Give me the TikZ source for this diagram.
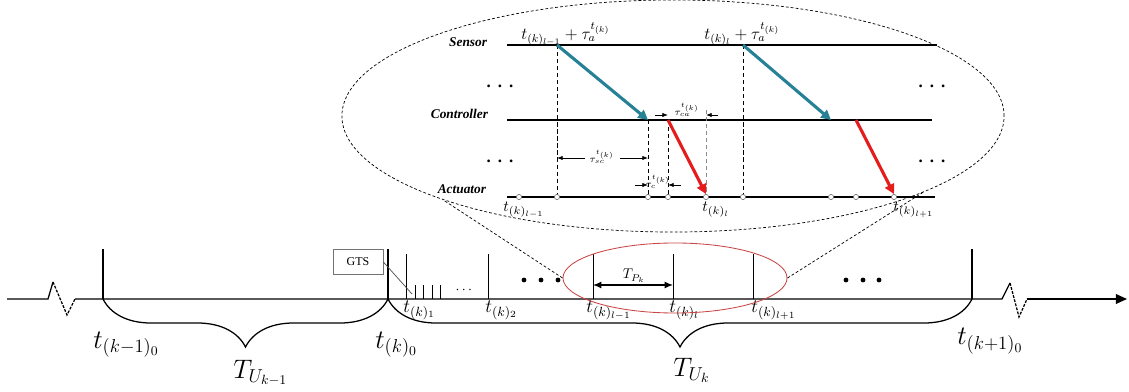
\RequirePackage{fix-cm}
\documentclass[tikz,border=0pt]{standalone}
\usepackage{amsmath}
\usepackage{fontspec}
\setmainfont{Liberation Serif}
\usetikzlibrary{arrows.meta, positioning, calc, shapes.geometric, decorations.pathreplacing}
\definecolor{sendteal}{RGB}{38, 128, 150}
\definecolor{actred}{RGB}{228, 28, 28}
\definecolor{focusred}{RGB}{200, 70, 70}

\begin{document}
\begin{tikzpicture}[x=0.025cm, y=-0.025cm,
    axisline/.style={line width=0.9pt},
    bigtick/.style={line width=0.9pt},
    midtick/.style={line width=0.7pt},
    smalltick/.style={line width=0.6pt},
    curly/.style={line width=0.9pt, decorate, decoration={brace, mirror, amplitude=1.2cm}},
    bigmath/.style={font=\fontsize{19}{21}\selectfont, inner sep=0pt},
    midmath/.style={font=\fontsize{13.5}{15}\selectfont, inner sep=0pt},
    zoommath/.style={font=\fontsize{12}{14}\selectfont, inner sep=0pt},
    tinymath/.style={font=\fontsize{7}{8}\selectfont, inner sep=0.5pt, fill=white},
    rowline/.style={line width=1.1pt},
    rowname/.style={font=\fontsize{9.5}{11}\selectfont\bfseries\itshape, anchor=east},
    slot/.style={circle, draw=black!60, fill=white, line width=0.4pt, inner sep=0pt, minimum size=0.13cm},
    guide/.style={line width=0.5pt, dash pattern=on 3pt off 2pt},
    sendarrow/.style={draw=sendteal, line width=2.2pt, -{Triangle[length=7pt, width=7pt]}},
    actarrow/.style={draw=actred, line width=2.2pt, -{Triangle[length=7pt, width=7pt]}},
    dimarrow/.style={line width=0.5pt, -{Latex[length=4pt, width=3pt]}},
    bigdot/.style={circle, fill=black, inner sep=0pt, minimum size=0.12cm},
    rowdots/.style={font=\fontsize{12}{14}\selectfont\bfseries, inner sep=0pt}]

    \useasboundingbox (0,0) rectangle (1129,392);

    % Time axis with breaks
    \coordinate (axL) at (7,299);
    \coordinate (axR) at (1127,299);
    \draw[axisline] (axL) -- (48,299) -- (53,282);
    \draw[axisline, dash pattern=on 2pt off 1pt] (53,282) -- (67,315) -- (75,299);
    \draw[axisline] (75,299) -- (1002,299) -- (1010,283);
    \draw[axisline, dash pattern=on 2pt off 1pt] (1010,283) -- (1019,317) -- (1027,299);
    \draw[axisline, -{Triangle[length=8pt, width=7pt]}] (1027,299) -- (axR);

    % Superframe bounds
    \coordinate (tkm1) at (103,299);
    \coordinate (tk0) at (388,299);
    \coordinate (tkp1) at (972,299);
    \foreach \p in {tkm1, tk0, tkp1}
        \draw[bigtick] (\p) -- ++(0,-50);
    \draw[curly] (tkm1) -- (tk0);
    \draw[curly] (tk0) -- (tkp1);

    % Slots
    \coordinate (m1) at (406,299);
    \coordinate (m2) at (488,299);
    \coordinate (ml0) at (593,299);
    \coordinate (ml1) at (673,299);
    \coordinate (ml2) at (753,299);
    \foreach \p in {m1, m2, ml0, ml1, ml2}
        \draw[midtick] (\p) -- ++(0,-45);
    \foreach \x in {415, 423, 432, 440}
        \draw[smalltick] (\x,299) -- (\x,285);
    \node[font=\fontsize{10}{12}\selectfont] (smalldots) at (465,290) {$\cdots$};
    \foreach \x [count=\i] in {524, 541, 558}
        \node[bigdot] (ldot\i) at (\x,280) {};
    \foreach \x [count=\i] in {846, 863, 879}
        \node[bigdot] (rdot\i) at (\x,280) {};

    % GTS
    \node[draw=black!55, line width=0.5pt, minimum width=1.25cm, minimum height=0.62cm,
          inner sep=0pt, font=\fontsize{8.5}{10}\selectfont] (gts) at (358,262) {GTS};
    \coordinate (gtsend) at (412,294);
    \draw[line width=0.5pt, black!70] (gts.east) -- (gtsend);

    % Period arrow
    \coordinate (rowp) at (0,285);
    \draw[line width=0.9pt, {Latex[length=6pt, width=5pt]}-{Latex[length=6pt, width=5pt]}]
        (ml0 |- rowp) -- (ml1 |- rowp);
    \node[font=\fontsize{10}{12}\selectfont, anchor=base] (tplab) at (634,279) {$T_{P_k}$};

    % Axis labels
    \node[bigmath, anchor=base west] (lkm1) at (93,348) {$t_{(k-1)_0}$};
    \node[bigmath, anchor=base west] (lk0) at (375,348) {$t_{(k)_0}$};
    \node[bigmath, anchor=base west] (lkp1) at (957,345) {$t_{(k+1)_0}$};
    \node[bigmath, anchor=base west] (lu1) at (233,378) {$T_{U_{k-1}}$};
    \node[bigmath, anchor=base west] (lu0) at (673,376) {$T_{U_k}$};
    \node[midmath, anchor=base west] (lm1) at (403,313) {$t_{(k)_1}$};
    \node[midmath, anchor=base west] (lm2) at (485,313) {$t_{(k)_2}$};
    \node[midmath, anchor=base west] (lml0) at (586,313) {$t_{(k)_{l-1}}$};
    \node[midmath, anchor=base west] (lml1) at (669,313) {$t_{(k)_l}$};
    \node[midmath, anchor=base west] (lml2) at (751,313) {$t_{(k)_{l+1}}$};

    % Zoomed view
    \node[draw=focusred, line width=0.6pt, ellipse, minimum width=5.6cm, minimum height=1.75cm,
          inner sep=0pt] (focus) at (675,278) {};
    \node[draw, line width=0.5pt, dash pattern=on 2pt off 1.5pt, ellipse, minimum width=16.55cm,
          minimum height=5.8cm, inner sep=0pt] (zoomview) at (673,116) {};
    \draw[line width=0.5pt, dash pattern=on 2pt off 1.5pt] (focus.west) -- (zoomview.200);
    \draw[line width=0.5pt, dash pattern=on 2pt off 1.5pt] (focus.east) -- (zoomview.343);

    \coordinate (sen) at (507,45);
    \coordinate (ctl) at (507,120);
    \coordinate (act) at (507,197);
    \draw[rowline] (sen) -- (937,45);
    \draw[rowline] (ctl) -- (932,120);
    \draw[rowline] (act) -- (935,197);
    \node[rowname] (sename) at (492,42) {Sensor};
    \node[rowname] (ctlname) at (493,114) {Controller};
    \node[rowname] (actname) at (491,189) {Actuator};
    \node[rowdots] (dl1) at (500,86) {.\hspace{5pt}.\hspace{5pt}.};
    \node[rowdots] (dl2) at (500,161) {.\hspace{5pt}.\hspace{5pt}.};
    \node[rowdots] (dr1) at (932,86) {.\hspace{5pt}.\hspace{5pt}.};
    \node[rowdots] (dr2) at (932,161) {.\hspace{5pt}.\hspace{5pt}.};

    % Guides
    \draw[guide] (557,45) -- (557,197);
    \draw[guide] (743,45) -- (743,197);
    \draw[guide] (648,120) -- (648,197);
    \draw[guide] (668,120) -- (668,197);
    \draw[guide, black!45] (706,110) -- (706,197);

    \foreach \x in {519, 557, 648, 668, 706, 743, 831, 856, 894}
        \node[slot] (a\x) at (\x,197) {};

    % Messages
    \draw[sendarrow] (a557 |- sen) -- (a648 |- ctl);
    \draw[sendarrow] (a743 |- sen) -- (a831 |- ctl);
    \draw[actarrow] (a668 |- ctl) -- (a706.north);
    \draw[actarrow] (a856 |- ctl) -- (a894.north);

    % Delays
    \coordinate (rowsc) at (0,158);
    \coordinate (rowc) at (0,185);
    \coordinate (rowca) at (0,115);
    \draw[dimarrow] (585,158) -- (a557 |- rowsc);
    \draw[dimarrow] (620,158) -- (a648 |- rowsc);
    \node[tinymath] (tausc) at (602,157) {$\tau_{sc}^{t_{(k)}}$};
    \draw[dimarrow] (635,185) -- (a648 |- rowc);
    \draw[dimarrow] (681,185) -- (a668 |- rowc);
    \node[tinymath, fill=none] (tauc) at (658,182) {$\tau_{c}^{t_{(k)}}$};
    \draw[dimarrow] (655,115) -- (a668 |- rowca);
    \draw[dimarrow] (718,115) -- (a706 |- rowca);
    \node[tinymath, fill=none] (tauca) at (687,110) {$\tau_{ca}^{t_{(k)}}$};

    % Zoom labels
    \node[zoommath, anchor=base west] (tsl0) at (521,40) {$t_{(k)_{l-1}}+\tau_a^{t_{(k)}}$};
    \node[zoommath, anchor=base west] (tsl1) at (704,40) {$t_{(k)_{l}}+\tau_a^{t_{(k)}}$};
    \node[zoommath, anchor=base west, font=\fontsize{11}{13}\selectfont] (tal0) at (503,212) {$t_{(k)_{l-1}}$};
    \node[zoommath, anchor=base west, font=\fontsize{11}{13}\selectfont] (tal1) at (702,212) {$t_{(k)_{l}}$};
    \node[zoommath, anchor=base west, font=\fontsize{11}{13}\selectfont] (tal2) at (893,212) {$t_{(k)_{l+1}}$};
\end{tikzpicture}
\end{document}
